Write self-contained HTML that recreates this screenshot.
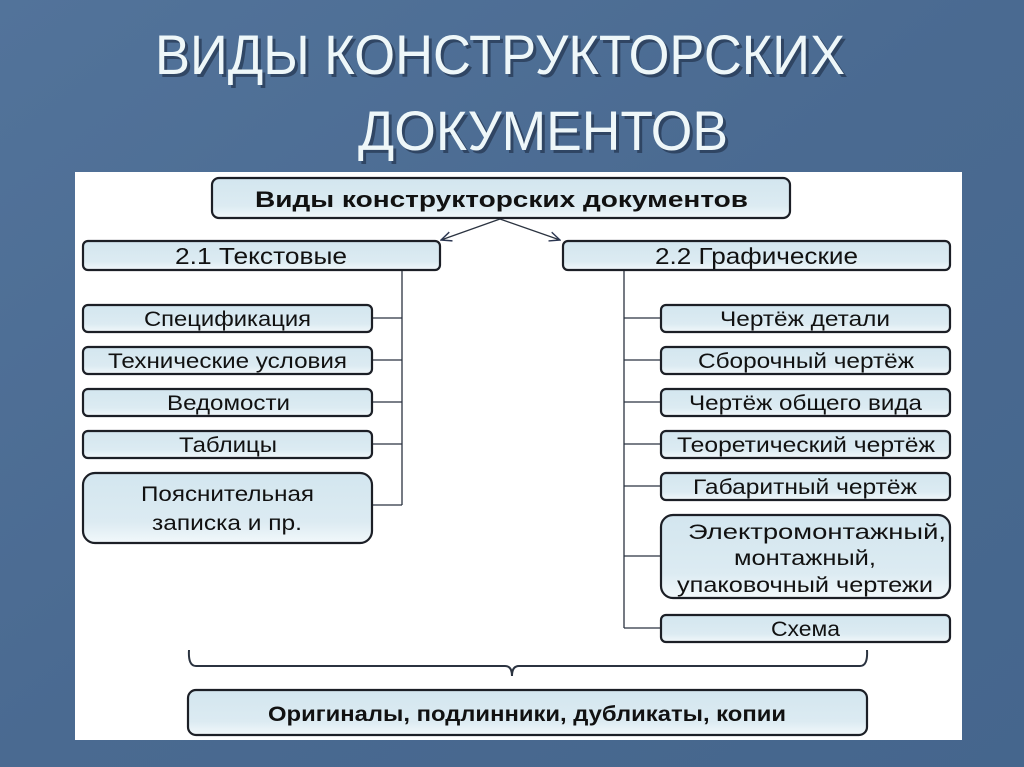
<!DOCTYPE html>
<html><head><meta charset="utf-8"><style>
html,body{margin:0;padding:0;width:1024px;height:767px;overflow:hidden;background:#4b6b92;}
svg{display:block}
text{font-family:"Liberation Sans","DejaVu Sans",sans-serif;}
</style></head><body>
<svg width="1024" height="767" viewBox="0 0 1024 767" xmlns="http://www.w3.org/2000/svg">
<defs>
<linearGradient id="bg" x1="0" y1="0" x2="1" y2="1">
<stop offset="0" stop-color="#52739a"/><stop offset="0.5" stop-color="#4a6a91"/><stop offset="1" stop-color="#45668d"/>
</linearGradient>
<linearGradient id="bx" x1="0" y1="0" x2="0" y2="1">
<stop offset="0" stop-color="#d3e6ef"/><stop offset="0.7" stop-color="#dcebf2"/><stop offset="1" stop-color="#f2f8fb"/>
</linearGradient>
<marker id="ar" viewBox="0 0 10 10" refX="9" refY="5" markerWidth="9" markerHeight="9" orient="auto"><path d="M0,1 L9,5 L0,9" fill="none" stroke="#2a3550" stroke-width="1.2"/></marker>
</defs>
<rect width="1024" height="767" fill="url(#bg)"/>
<g fill="#1d2c44" opacity="0.6">
<text x="158" y="77" font-size="56" textLength="690" lengthAdjust="spacingAndGlyphs">ВИДЫ КОНСТРУКТОРСКИХ</text>
<text x="361" y="153" font-size="56" textLength="370" lengthAdjust="spacingAndGlyphs">ДОКУМЕНТОВ</text>
</g>
<g fill="#eef7f9">
<text x="155" y="74" font-size="56" textLength="690" lengthAdjust="spacingAndGlyphs">ВИДЫ КОНСТРУКТОРСКИХ</text>
<text x="358" y="150" font-size="56" textLength="370" lengthAdjust="spacingAndGlyphs">ДОКУМЕНТОВ</text>
</g>
<rect x="75" y="172" width="887" height="568" fill="#ffffff"/>
<g stroke="#2b3340" stroke-width="1.3" fill="none">
<line x1="402" y1="270" x2="402" y2="505"/>
<line x1="372" y1="318" x2="402" y2="318"/><line x1="372" y1="360" x2="402" y2="360"/>
<line x1="372" y1="402" x2="402" y2="402"/><line x1="372" y1="444" x2="402" y2="444"/>
<line x1="372" y1="505" x2="402" y2="505"/>
<line x1="624" y1="270" x2="624" y2="628"/>
<line x1="624" y1="318" x2="661" y2="318"/><line x1="624" y1="360" x2="661" y2="360"/>
<line x1="624" y1="402" x2="661" y2="402"/><line x1="624" y1="444" x2="661" y2="444"/>
<line x1="624" y1="486" x2="661" y2="486"/><line x1="624" y1="556" x2="661" y2="556"/>
<line x1="624" y1="628" x2="661" y2="628"/>
<line x1="500" y1="219" x2="441" y2="240" marker-end="url(#ar)"/>
<line x1="500" y1="219" x2="560" y2="240" marker-end="url(#ar)"/>
<path d="M189,650 Q188,666 196,666 L505,666 Q512,666 512,676 Q512,666 519,666 L860,666 Q868,666 867,650" stroke-width="2"/>
</g>
<g stroke="#1c1f26" stroke-width="2.2" fill="url(#bx)">
<rect x="212" y="178" width="578" height="40" rx="7"/>
<rect x="83" y="241" width="357" height="29" rx="5"/>
<rect x="563" y="241" width="387" height="29" rx="5"/>
<rect x="83" y="305" width="289" height="27" rx="5"/>
<rect x="83" y="347" width="289" height="27" rx="5"/>
<rect x="83" y="389" width="289" height="27" rx="5"/>
<rect x="83" y="431" width="289" height="27" rx="5"/>
<rect x="83" y="473" width="289" height="70" rx="12"/>
<rect x="661" y="305" width="289" height="27" rx="5"/>
<rect x="661" y="347" width="289" height="27" rx="5"/>
<rect x="661" y="389" width="289" height="27" rx="5"/>
<rect x="661" y="431" width="289" height="27" rx="5"/>
<rect x="661" y="473" width="289" height="27" rx="5"/>
<rect x="661" y="515" width="289" height="83" rx="12"/>
<rect x="661" y="615" width="289" height="27" rx="5"/>
<rect x="188" y="690" width="679" height="45" rx="8"/>
</g>
<g fill="#111" font-size="21" lengthAdjust="spacingAndGlyphs">
<text x="255" y="207" font-weight="bold" font-size="22" textLength="493" lengthAdjust="spacingAndGlyphs">Виды конструкторских документов</text>
<text x="175" y="264" font-size="23" textLength="172" lengthAdjust="spacingAndGlyphs">2.1 Текстовые</text>
<text x="655" y="264" font-size="23" textLength="203" lengthAdjust="spacingAndGlyphs">2.2 Графические</text>
<text x="144" y="326" textLength="167" lengthAdjust="spacingAndGlyphs">Спецификация</text>
<text x="108" y="368" textLength="239" lengthAdjust="spacingAndGlyphs">Технические условия</text>
<text x="167" y="410" textLength="123" lengthAdjust="spacingAndGlyphs">Ведомости</text>
<text x="179" y="452" textLength="98" lengthAdjust="spacingAndGlyphs">Таблицы</text>
<text x="141" y="501" textLength="173" lengthAdjust="spacingAndGlyphs">Пояснительная</text>
<text x="152" y="530" textLength="150" lengthAdjust="spacingAndGlyphs">записка и пр.</text>
<text x="720" y="326" textLength="170" lengthAdjust="spacingAndGlyphs">Чертёж детали</text>
<text x="698" y="368" textLength="216" lengthAdjust="spacingAndGlyphs">Сборочный чертёж</text>
<text x="689" y="410" textLength="233" lengthAdjust="spacingAndGlyphs">Чертёж общего вида</text>
<text x="677" y="452" textLength="258" lengthAdjust="spacingAndGlyphs">Теоретический чертёж</text>
<text x="693" y="494" textLength="224" lengthAdjust="spacingAndGlyphs">Габаритный чертёж</text>
<text x="688" y="539" textLength="258" lengthAdjust="spacingAndGlyphs">Электромонтажный,</text>
<text x="734" y="565" textLength="142" lengthAdjust="spacingAndGlyphs">монтажный,</text>
<text x="677" y="592" textLength="256" lengthAdjust="spacingAndGlyphs">упаковочный чертежи</text>
<text x="771" y="636" textLength="69" lengthAdjust="spacingAndGlyphs">Схема</text>
<text x="268" y="721" font-weight="bold" font-size="21" textLength="518" lengthAdjust="spacingAndGlyphs">Оригиналы, подлинники, дубликаты, копии</text>
</g>
</svg>
</body></html>
